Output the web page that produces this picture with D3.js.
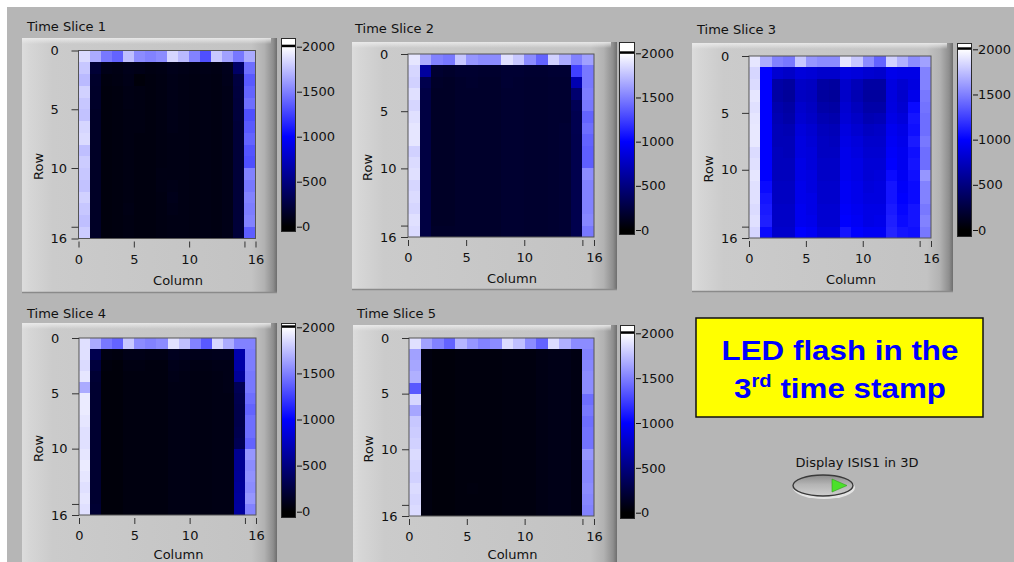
<!DOCTYPE html>
<html>
<head>
<meta charset="utf-8">
<script src="https://cdn.jsdelivr.net/npm/d3@7"></script>
<style>
  html, body { margin: 0; padding: 0; background: #ffffff; }
  svg { display: block; }
</style>
</head>
<body>
<svg id="chart" width="1014" height="562"></svg>
<script>
// ---- Intensity readings, 16 rows x 16 columns per time slice ----
const slice1 = [
  [1860,1670,1470,1390,1750,1550,1510,1550,1840,1730,1510,1310,1780,1630,1470,1670],
  [1780, 210,  90,  80, 100,  90,  70,  80, 100,  90,  80,  90,  80, 110, 400,1430],
  [1730, 170,  60,  70,  90,  40,  60,  70,  90,  80,  70,  80,  70, 100, 250,1350],
  [1820, 160,  50,  60,  80,  70,  60,  70,  90,  80,  70,  80,  70,  90, 240,1390],
  [1780, 160,  50,  60,  80,  70,  60,  70,  90,  80,  70,  80,  70,  90, 230,1430],
  [1760, 150,  50,  60,  70,  70,  60,  70,  90,  80,  70,  80,  70,  90, 230,1310],
  [1840, 150,  50,  60,  70,  70,  60,  70,  90,  80,  70,  80,  70,  90, 220,1350],
  [1860, 150,  50,  60,  70,  60,  60,  70,  80,  80,  70,  80,  70,  90, 220,1390],
  [1750, 150,  50,  60,  70,  60,  60,  70,  80,  80,  70,  80,  70,  90, 220,1330],
  [1800, 150,  50,  60,  70,  60,  60,  70,  80,  80,  70,  80,  70,  90, 220,1310],
  [1780, 150,  50,  60,  70,  60,  60,  80,  80,  80,  70,  80,  70,  90, 220,1510],
  [1760, 150,  50,  60,  70,  60,  60,  80,  90,  80,  70,  80,  70,  90, 220,1470],
  [1820, 150,  50,  60,  70,  60,  60,  70, 100,  80,  70,  80,  70,  90, 220,1510],
  [1780, 150,  50,  60,  80,  60,  60,  70,  90,  80,  70,  80,  70,  90, 220,1490],
  [1750, 150,  50,  60,  70,  60,  60,  70,  80,  80,  70,  80,  70,  90, 220,1510],
  [1800, 150,  50,  60,  70,  60,  60,  70,  80,  80,  70,  80,  70,  90, 220,1370]
];

const slice2 = [
  [1900,1670,1510,1470,1780,1590,1550,1550,1880,1780,1550,1390,1820,1670,1510,1630],
  [1840, 620, 190, 170, 190, 190, 180, 180, 200, 200, 190, 190, 200, 200,1250,1470],
  [1820, 300, 160, 150, 170, 180, 170, 170, 200, 190, 180, 180, 190, 190, 690,1470],
  [1880, 270, 150, 150, 170, 170, 170, 170, 190, 190, 180, 180, 190, 190, 430,1490],
  [1840, 260, 150, 150, 170, 170, 170, 170, 190, 190, 180, 180, 190, 190, 330,1470],
  [1880, 260, 150, 150, 170, 170, 170, 170, 190, 190, 180, 180, 190, 190, 310,1390],
  [1900, 260, 150, 150, 170, 170, 170, 170, 190, 190, 180, 180, 190, 200, 310,1430],
  [1900, 260, 150, 150, 170, 170, 170, 170, 190, 190, 180, 180, 190, 200, 300,1390],
  [1820, 260, 150, 150, 170, 170, 170, 170, 190, 190, 180, 180, 190, 200, 300,1370],
  [1860, 260, 150, 150, 170, 170, 170, 170, 190, 190, 180, 180, 190, 200, 300,1370],
  [1880, 260, 150, 150, 170, 170, 170, 170, 190, 190, 180, 180, 190, 200, 300,1550],
  [1840, 260, 150, 150, 170, 170, 170, 170, 190, 190, 180, 180, 190, 200, 300,1510],
  [1860, 260, 150, 150, 170, 170, 170, 170, 190, 190, 180, 180, 190, 200, 300,1510],
  [1840, 260, 150, 150, 170, 170, 170, 170, 190, 190, 180, 180, 190, 200, 300,1510],
  [1880, 260, 150, 150, 170, 170, 170, 170, 190, 190, 180, 180, 190, 200, 300,1530],
  [1860, 260, 160, 160, 170, 170, 170, 170, 190, 190, 180, 180, 190, 200, 300,1470]
];

const slice3 = [
  [1900,1670,1510,1470,1780,1590,1550,1550,1900,1780,1550,1390,1820,1690,1550,1630],
  [1840,1000, 820, 780, 860, 840, 800, 800, 880, 860, 820, 800, 920, 900, 900,1510],
  [1860,1000, 650, 620, 780, 760, 640, 620, 800, 720, 640, 640, 880, 820, 880,1510],
  [1900,1000, 640, 600, 760, 740, 620, 600, 790, 700, 620, 620, 870, 800, 920,1470],
  [1880,1000, 680, 640, 800, 760, 660, 640, 820, 740, 660, 660, 880, 820,1040,1450],
  [1900,1000, 700, 660, 820, 780, 700, 680, 840, 780, 700, 720, 900, 860,1080,1430],
  [1910,1000, 720, 700, 860, 820, 740, 720, 880, 820, 760, 780, 940, 900,1060,1430],
  [1910,1000, 720, 720, 880, 840, 760, 740, 900, 860, 800, 800, 960, 920,1100,1470],
  [1860,1000, 740, 720, 880, 860, 760, 760, 920, 880, 820, 820, 980, 940,1060,1430],
  [1880,1000, 740, 740, 900, 860, 780, 780, 920, 900, 840, 840,1000, 940,1080,1430],
  [1900,1000, 740, 740, 900, 880, 780, 780, 940, 900, 840, 860,1040, 960,1060,1590],
  [1880,1040, 760, 760, 920, 880, 800, 800, 960, 920, 860, 880,1080, 980,1040,1510],
  [1880,1080, 760, 760, 920, 900, 800, 800, 960, 920, 880, 880,1080,1000,1040,1510],
  [1860,1100, 780, 780, 940, 900, 820, 820, 980, 940, 900, 900,1100,1020,1080,1470],
  [1880,1120, 780, 780, 940, 920, 820, 820,1000, 960, 900, 920,1120,1040,1080,1510],
  [1840,1040, 800, 800,1000, 960, 860, 860,1080,1000, 960, 960,1140,1080,1060,1470]
];

const slice4 = [
  [1880,1670,1470,1390,1780,1550,1510,1550,1880,1750,1510,1350,1840,1670,1510,1510],
  [1880, 310,  70,  60,  90,  90,  80,  80, 120, 110, 100, 100, 110, 110, 670,1490],
  [1860, 240,  50,  40,  70,  70,  60,  60, 100,  90,  80,  80,  90,  90, 650,1490],
  [1900, 200,  40,  40,  60,  60,  60,  60,  90,  80,  70,  70,  80,  90, 600,1470],
  [1670, 190,  40,  40,  60,  60,  60,  60,  80,  80,  70,  70,  80,  90, 330,1470],
  [1920, 190,  40,  40,  60,  60,  60,  60,  80,  80,  70,  70,  80,  80, 300,1430],
  [1920, 190,  40,  40,  60,  60,  60,  60,  80,  80,  70,  70,  80,  80, 290,1390],
  [1900, 190,  40,  40,  60,  60,  60,  60,  80,  80,  70,  70,  80,  80, 290,1430],
  [1880, 190,  40,  40,  60,  60,  60,  60,  80,  80,  70,  70,  80,  80, 300,1430],
  [1880, 190,  40,  40,  60,  60,  60,  60,  80,  80,  70,  70,  80,  80, 320,1390],
  [1900, 190,  40,  40,  60,  60,  60,  60,  80,  80,  70,  70,  80,  80, 560,1590],
  [1920, 190,  40,  40,  60,  60,  60,  60,  80,  80,  70,  70,  80,  80, 580,1550],
  [1900, 190,  40,  40,  60,  60,  60,  60,  80,  80,  70,  70,  80,  80, 590,1570],
  [1880, 190,  40,  40,  60,  60,  60,  60,  80,  80,  70,  70,  80,  80, 600,1550],
  [1900, 190,  40,  40,  60,  60,  60,  60,  80,  80,  70,  70,  80,  80, 610,1590],
  [1880, 200,  40,  40,  60,  60,  60,  60,  80,  80,  70,  70,  80,  80, 620,1510]
];

const slice5 = [
  [1880,1630,1510,1390,1710,1590,1510,1550,1860,1750,1550,1390,1860,1690,1550,1550],
  [1630,  60,  40,  40,  50,  50,  50,  50,  60,  60,  60,  80,  90,  90,  70,1510],
  [1650,  60,  40,  40,  50,  50,  50,  50,  60,  60,  60,  80,  90,  90,  70,1530],
  [1690,  60,  40,  40,  50,  50,  50,  50,  60,  60,  60,  80,  90,  90,  70,1550],
  [1350,  60,  40,  40,  50,  50,  50,  50,  60,  60,  60,  80,  90,  90,  70,1550],
  [1840,  60,  40,  40,  50,  50,  50,  50,  60,  60,  60,  80,  90,  90,  70,1430],
  [1650,  60,  40,  40,  50,  50,  50,  50,  60,  60,  60,  80,  90,  90,  70,1470],
  [1780,  60,  40,  40,  50,  50,  50,  50,  60,  60,  60,  80,  90,  90,  70,1430],
  [1800,  60,  40,  40,  50,  50,  50,  50,  60,  60,  60,  80,  90,  90,  70,1450],
  [1820,  60,  40,  40,  50,  50,  50,  50,  60,  60,  60,  80,  90,  90,  70,1450],
  [1860,  60,  40,  40,  50,  50,  50,  50,  60,  60,  60,  80,  90,  90,  70,1590],
  [1840,  60,  40,  40,  50,  50,  50,  50,  60,  60,  60,  80,  90,  90,  70,1530],
  [1820,  60,  40,  40,  50,  50,  50,  50,  60,  60,  60,  80,  90,  90,  70,1530],
  [1860,  60,  40,  40,  50,  60,  50,  50,  60,  60,  60,  80,  90,  90,  70,1550],
  [1840,  60,  40,  40,  50,  50,  50,  50,  60,  60,  60,  80,  90,  90,  70,1530],
  [1860,  60,  40,  40,  50,  50,  50,  50,  60,  60,  60,  80,  90,  90,  70,1510]
];

// ---- Axis and colour-ramp ticks ----
const axisTicks = [0, 5, 10, 15, 16];
const axisTickLabels = ["0", "5", "10", "", "16"];
const rampTicks = [0, 500, 1000, 1500, 2000];
const rampTickLabels = ["0", "500", "1000", "1500", "2000"];
const rampStops = [0, 1000, 2000];
const rampColours = ["#000000", "#0000ff", "#ffffff"];

const sliceNames = ["Time Slice 1", "Time Slice 2", "Time Slice 3", "Time Slice 4", "Time Slice 5"];
const slices = [slice1, slice2, slice3, slice4, slice5];

// ---- Front-panel layout of each graph (frame, plot area, colour ramp) ----
const layout = [
  { frame: [22, 38, 255, 255],   title: [27, 31],  plot: [78.5, 50.5, 177, 188], ramp: [281, 38, 15, 194],  rampY: [226.7, 46.7] },
  { frame: [352, 42, 265, 248],  title: [355, 33], plot: [408, 54, 186, 183],    ramp: [619, 42, 16, 193],  rampY: [230, 53.3] },
  { frame: [692, 43, 261, 249],  title: [697, 34], plot: [749, 56, 182, 182],    ramp: [957, 43, 15, 194],  rampY: [230, 49.3] },
  { frame: [22, 323, 255, 260],  title: [27, 318], plot: [79, 338, 177, 177],    ramp: [281, 323, 15, 195], rampY: [511.7, 327.3] },
  { frame: [353, 325, 264, 260], title: [357, 318], plot: [409, 338, 185, 178],  ramp: [620, 325, 15, 194], rampY: [512.7, 333.3] }
];

const UI_FONT = "'DejaVu Sans', Verdana, sans-serif";

const colour = d3.scaleLinear().domain(rampStops).range(rampColours).clamp(true);

const svg = d3.select("#chart");
const defs = svg.append("defs");

// page background: white margin, grey panel
svg.append("rect").attr("width", 1014).attr("height", 562).attr("fill", "#ffffff");
svg.append("rect").attr("x", 7).attr("y", 7).attr("width", 1007).attr("height", 555).attr("fill", "#b6b6b6");

// raised bezel shading for graph frames
const bez = defs.append("linearGradient").attr("id", "bezel").attr("x1", 0).attr("x2", 1).attr("y1", 0).attr("y2", 0);
[[0, "#dcdcdc"], [0.03, "#d6d6d6"], [0.12, "#cbcbcb"], [0.5, "#c7c7c7"], [0.9, "#c3c3c3"], [0.95, "#b2b2b2"], [0.985, "#8e8e8e"], [1, "#6e6e6e"]]
  .forEach(([o, c]) => bez.append("stop").attr("offset", o).attr("stop-color", c));
const bezTop = defs.append("linearGradient").attr("id", "bezelTop").attr("x1", 0).attr("x2", 0).attr("y1", 0).attr("y2", 1);
[[0, "#ececec", 0.9], [1, "#ececec", 0]]
  .forEach(([o, c, a]) => bezTop.append("stop").attr("offset", o).attr("stop-color", c).attr("stop-opacity", a));

layout.forEach((L, idx) => {
  const g = svg.append("g");
  const [fx, fy, fw, fh] = L.frame;

  // frame
  g.append("rect").attr("x", fx).attr("y", fy).attr("width", fw).attr("height", fh).attr("fill", "url(#bezel)");
  g.append("rect").attr("x", fx).attr("y", fy).attr("width", fw - 6).attr("height", 6).attr("fill", "url(#bezelTop)");
  g.append("line").attr("x1", fx).attr("x2", fx + fw).attr("y1", fy + fh - 0.5).attr("y2", fy + fh - 0.5)
    .attr("stroke", "#8a8a8a").attr("stroke-width", 1.5);

  // title
  g.append("text").attr("x", L.title[0]).attr("y", L.title[1])
    .attr("font-family", UI_FONT).attr("font-size", 13).attr("fill", "#111")
    .text(sliceNames[idx]);

  // plot scales
  const [px, py, pw, ph] = L.plot;
  const xs = d3.scaleLinear().domain([0, 16]).range([px, px + pw]);
  const ys = d3.scaleLinear().domain([0, 16]).range([py, py + ph]);

  // heat-map cells (edges snapped to whole pixels so neighbours meet without seams)
  const cells = [];
  slices[idx].forEach((row, r) => row.forEach((v, c) => cells.push({ r, c, v })));
  g.append("g").attr("shape-rendering", "crispEdges")
    .selectAll("rect").data(cells).join("rect")
    .attr("x", d => Math.round(xs(d.c)))
    .attr("y", d => Math.round(ys(d.r)))
    .attr("width", d => Math.round(xs(d.c + 1)) - Math.round(xs(d.c)))
    .attr("height", d => Math.round(ys(d.r + 1)) - Math.round(ys(d.r)))
    .attr("fill", d => colour(d.v));

  g.append("rect").attr("x", px).attr("y", py).attr("width", pw).attr("height", ph)
    .attr("fill", "none").attr("stroke", "#555").attr("stroke-width", 1);

  const labelOf = d => axisTickLabels[axisTicks.indexOf(d)];

  // row axis
  const yAxis = g.append("g").attr("transform", `translate(${px},0)`)
    .call(d3.axisLeft(ys).tickValues(axisTicks).tickFormat(labelOf).tickSize(7));
  yAxis.select(".domain").remove();
  yAxis.selectAll("line").attr("stroke", "#333");
  yAxis.selectAll("text").attr("text-anchor", "start").attr("x", -28)
    .attr("font-family", UI_FONT).attr("font-size", 13).attr("fill", "#111");

  // column axis
  const xAxis = g.append("g").attr("transform", `translate(0,${py + ph + 3})`)
    .call(d3.axisBottom(xs).tickValues(axisTicks).tickFormat(labelOf).tickSize(6));
  xAxis.select(".domain").remove();
  xAxis.selectAll("line").attr("stroke", "#333");
  xAxis.selectAll("text").attr("y", 22).attr("dy", 0)
    .attr("font-family", UI_FONT).attr("font-size", 13).attr("fill", "#111");

  // axis names
  g.append("text")
    .attr("transform", `translate(${px - 36},${py + ph / 2 + 22}) rotate(-90)`)
    .attr("text-anchor", "middle")
    .attr("font-family", UI_FONT).attr("font-size", 13).attr("fill", "#111")
    .text("Row");
  g.append("text")
    .attr("x", px + pw / 2 + 11).attr("y", Math.min(py + ph + 46, 559))
    .attr("text-anchor", "middle")
    .attr("font-family", UI_FONT).attr("font-size", 13).attr("fill", "#111")
    .text("Column");

  // colour ramp: black at 0, blue at 1000, white at 2000
  const [rx, ry, rw, rh] = L.ramp;
  const cy = d3.scaleLinear().domain([0, 2000]).range(L.rampY);
  const gid = "ramp" + idx;
  const grad = defs.append("linearGradient").attr("id", gid)
    .attr("gradientUnits", "userSpaceOnUse")
    .attr("x1", 0).attr("x2", 0).attr("y1", cy(2000)).attr("y2", cy(0));
  rampStops.slice().reverse().forEach(v => grad.append("stop")
    .attr("offset", 1 - v / 2000).attr("stop-color", colour(v)));

  g.append("rect").attr("x", rx).attr("y", ry).attr("width", rw).attr("height", rh)
    .attr("fill", `url(#${gid})`);
  g.append("rect").attr("x", rx).attr("y", ry).attr("width", rw).attr("height", cy(2000) - 2 - ry)
    .attr("fill", "#ffffff");
  g.append("rect").attr("x", rx).attr("y", cy(2000) - 2).attr("width", rw).attr("height", 2.5)
    .attr("fill", "#000000");
  g.append("rect").attr("x", rx + 0.5).attr("y", ry + 0.5).attr("width", rw - 1).attr("height", rh - 1)
    .attr("fill", "none").attr("stroke", "#2a2a2a").attr("stroke-width", 1);

  const rampAxis = g.append("g").attr("transform", `translate(${rx + rw},0)`)
    .call(d3.axisRight(cy).tickValues(rampTicks)
      .tickFormat(d => rampTickLabels[rampTicks.indexOf(d)]).tickSize(5).tickPadding(1));
  rampAxis.select(".domain").remove();
  rampAxis.selectAll("line").attr("stroke", "#111").attr("transform", "translate(1,0)");
  rampAxis.selectAll("text").attr("font-family", UI_FONT).attr("font-size", 13).attr("fill", "#111");
});

// ---- annotation box ----
const note = svg.append("g");
note.append("rect").attr("x", 696).attr("y", 318).attr("width", 287).attr("height", 99)
  .attr("fill", "#ffff00").attr("stroke", "#111").attr("stroke-width", 1.5);
const noteText = note.append("g").attr("transform", "translate(840,0) scale(1.12,1)");
noteText.append("text").attr("x", 0).attr("y", 360).attr("text-anchor", "middle")
  .attr("font-family", "'Liberation Sans', Arial, sans-serif").attr("font-weight", "bold")
  .attr("font-size", 28).attr("fill", "#0000ff")
  .text("LED flash in the");
const line2 = noteText.append("text").attr("x", 0).attr("y", 398).attr("text-anchor", "middle")
  .attr("font-family", "'Liberation Sans', Arial, sans-serif").attr("font-weight", "bold")
  .attr("font-size", 28).attr("fill", "#0000ff");
line2.append("tspan").text("3");
line2.append("tspan").attr("font-size", 18).attr("dy", -11).text("rd");
line2.append("tspan").attr("dy", 11).text(" time stamp");

// ---- 3D display toggle ----
const btn = svg.append("g");
const btnGrad = defs.append("linearGradient").attr("id", "btnFace").attr("x1", 0).attr("x2", 0).attr("y1", 0).attr("y2", 1);
[[0, "#8c8c8c"], [0.45, "#b4b4b4"], [1, "#cfcfcf"]]
  .forEach(([o, c]) => btnGrad.append("stop").attr("offset", o).attr("stop-color", c));
btn.append("text").attr("x", 857).attr("y", 467).attr("text-anchor", "middle")
  .attr("font-family", UI_FONT).attr("font-size", 13).attr("fill", "#111")
  .text("Display ISIS1 in 3D");
btn.append("ellipse").attr("cx", 824).attr("cy", 487.5).attr("rx", 31).attr("ry", 11.5).attr("fill", "#e4e4e4");
btn.append("ellipse").attr("cx", 823).attr("cy", 485.5).attr("rx", 30).attr("ry", 10.5)
  .attr("fill", "url(#btnFace)").attr("stroke", "#3a3a3a").attr("stroke-width", 1.4);
btn.append("path").attr("d", "M832,479 L847,485.5 L832,492 Z").attr("fill", "#4be12a").attr("stroke", "#2fa01a").attr("stroke-width", 0.6);
</script>
</body>
</html>
